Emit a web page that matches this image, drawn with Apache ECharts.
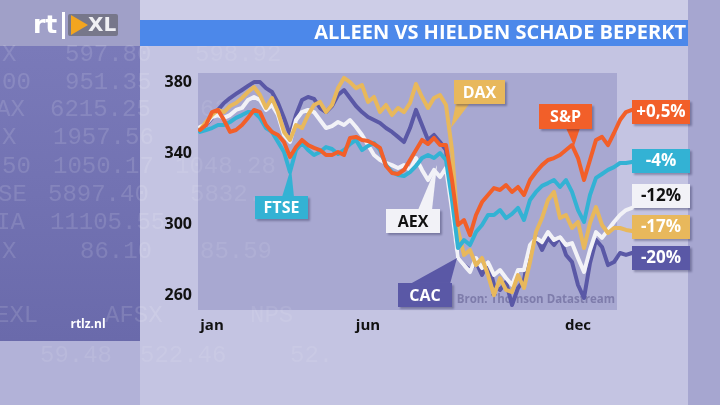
<!DOCTYPE html>
<html><head><meta charset="utf-8">
<script src="https://cdn.jsdelivr.net/npm/echarts@6/dist/echarts.min.js"></script>
<style>html,body{margin:0;padding:0;background:#c4c4e2}#c{width:720px;height:405px}</style>
</head><body><div id="c"></div>
<script>
// ---- data ----
const points = Array.from({length: 73}, (_, i) => String(i));
const monthLabels = ['jan', 'jun', 'dec'];
const monthAt = [2, 28, 63];
const yTicks = [260, 300, 340, 380];

const cac = [354.5,356.2,360.2,364.7,368.6,371.4,373.7,375.9,378.2,380.4,380.4,377.0,374.8,368.6,360.2,350.6,361.8,370.3,372.0,370.9,365.8,363.5,366.9,373.1,375.9,371.4,366.9,363.5,360.7,359.0,357.3,354.5,352.3,349.5,346.6,354.5,364.7,356.2,347.8,350.6,346.6,342.1,311.1,281.3,277.3,274.5,279.0,271.7,279.0,266.1,263.3,267.8,254.8,264.4,268.9,287.5,293.1,285.8,292.6,288.6,293.1,283.0,279.0,266.1,258.8,278.5,291.4,287.5,277.3,279.0,284.1,283.0,284.1];
const aex = [355.1,356.8,360.7,361.8,360.2,361.8,364.7,365.8,370.3,372.0,370.3,364.7,367.5,361.8,350.6,346.6,359.0,363.5,364.7,363.5,359.0,354.5,355.6,357.9,356.2,359.0,355.1,350.6,344.9,339.3,336.5,334.8,333.6,332.0,333.6,330.9,337.6,330.9,325.2,330.9,326.9,332.0,308.3,281.3,277.3,273.4,281.3,275.6,279.0,271.7,274.5,270.0,266.1,274.5,274.5,288.6,292.6,290.3,295.9,291.4,293.1,288.6,289.7,281.3,273.4,285.8,295.9,292.6,297.1,301.6,305.5,308.3,309.5];
const dax = [353.4,357.9,361.8,364.7,363.5,366.9,368.6,371.4,374.8,377.6,373.1,365.8,371.4,363.5,352.3,347.8,356.2,354.5,361.8,367.5,369.2,363.5,367.5,377.0,382.7,380.4,377.0,378.7,369.2,372.0,363.5,367.5,361.8,365.8,363.5,368.6,379.3,372.0,365.8,371.4,373.1,367.5,342.1,297.1,283.0,285.8,277.3,281.3,271.7,260.4,270.0,263.3,262.1,271.7,264.4,279.0,295.9,303.8,314.0,318.5,303.8,305.5,298.2,301.6,286.9,301.0,310.0,299.9,295.4,298.2,298.2,297.1,296.5];
const ftse = [352.3,353.4,354.5,356.2,356.2,357.9,360.2,361.8,363.5,363.5,360.2,354.5,352.3,346.6,341.0,329.7,342.1,346.1,342.1,339.3,341.0,343.8,342.7,339.9,342.1,345.5,347.8,342.1,344.4,346.1,342.1,333.6,329.7,328.0,327.5,329.7,333.1,337.6,339.3,337.6,340.4,336.5,314.0,286.9,291.4,288.6,295.9,299.9,305.5,305.5,308.3,303.8,306.1,309.5,302.7,314.0,318.5,321.9,323.5,325.2,321.3,325.2,318.5,308.3,301.6,316.8,326.4,328.6,330.9,332.5,334.8,334.8,335.4];
const sp = [353.4,356.2,363.5,364.7,359.0,352.3,353.4,356.2,360.2,364.7,363.5,356.2,352.3,350.6,346.6,338.2,343.8,347.8,344.9,343.3,342.1,339.3,339.3,341.0,339.3,348.9,349.5,347.8,347.2,345.5,343.3,333.1,329.2,328.6,330.9,336.5,342.1,347.8,345.5,348.9,344.9,344.9,325.2,299.9,302.7,294.2,305.5,312.8,316.8,320.7,319.6,322.4,318.5,321.3,316.8,325.2,329.7,333.6,336.5,337.6,339.3,342.1,344.9,337.6,325.2,336.5,347.8,349.5,344.9,351.7,359.0,363.5,364.7];

const seriesNames = ['CAC', 'AEX', 'DAX', 'FTSE', 'S&P'];
const changes = ['-20%', '-12%', '-17%', '-4%', '+0,5%'];

// ---- styles ----
const colors = {CAC: '#5a58a6', AEX: '#f2f2f7', DAX: '#e8b85c', FTSE: '#33b2d4', 'S&P': '#f25f29'};
const textColors = {CAC: '#fff', AEX: '#111', DAX: '#fff', FTSE: '#fff', 'S&P': '#fff'};
const endOffsets = {CAC: 5, AEX: -12, DAX: -4, FTSE: -1, 'S&P': 2};
const FONT = '"Open Sans", "DejaVu Sans", sans-serif';
const seriesData = {CAC: cac, AEX: aex, DAX: dax, FTSE: ftse, 'S&P': sp};

const shadow = {shadowColor: 'rgba(30,30,70,0.35)', shadowOffsetX: 2, shadowOffsetY: 2, shadowBlur: 2};

function callout(name, x, y, w, h, pointer) {
  return {
    type: 'group', z: 100, children: [
      {type: 'polygon', z: 100, shape: {points: pointer}, style: {fill: colors[name]}},
      {type: 'rect', z: 101, shape: {x: x, y: y, width: w, height: h}, style: Object.assign({fill: colors[name]}, shadow)},
      {type: 'text', z: 102, x: x + w / 2, y: y + h / 2 + 1, style: {text: name, fill: textColors[name], font: 'bold 16px ' + FONT, align: 'center', verticalAlign: 'middle'}}
    ]
  };
}

const ticker = [
  [55, [['X', 2], ['597.80', 65], ['598.92', 195]]],
  [83, [['00', 2], ['951.35', 65]]],
  [110, [['AX', -4], ['6215.25', 50], ['62', 200]]],
  [138, [['X', 2], ['1957.56', 53]]],
  [167, [['50', 2], ['1050.17', 53], ['1048.28', 175]]],
  [195, [['SE', -2], ['5897.40', 48], ['5832.', 190]]],
  [223, [['IA', -4], ['11105.55', 50]]],
  [252, [['X', 2], ['86.10', 80], ['85.59', 200]]],
  [316, [['EXL', -5], ['AFSX', 105], ['NPS', 250]]],
  [356, [['59.48', 40], ['522.46', 140], ['52.', 290]]]
];
const tickerEls = [];
ticker.forEach(([y, parts]) => parts.forEach(([t, x]) => tickerEls.push({
  type: 'text', z: 1, x: x, y: y, style: {text: t, fill: x < 140 && y < 330 ? 'rgba(255,255,255,0.13)' : 'rgba(255,255,255,0.09)', font: '24px "Liberation Mono", "DejaVu Sans Mono", monospace', verticalAlign: 'middle'}
})));

const graphics = [
  {type: 'rect', z: -10, shape: {x: 0, y: 0, width: 720, height: 405}, style: {fill: '#c4c4e2'}},
  {type: 'rect', z: -9, shape: {x: 0, y: 0, width: 720, height: 22}, style: {fill: '#cdcde7'}},
  {type: 'rect', z: -9, shape: {x: 0, y: 0, width: 140, height: 46}, style: {fill: '#a0a0c8'}},
  {type: 'rect', z: -9, shape: {x: 0, y: 46, width: 140, height: 295}, style: {fill: new echarts.graphic.LinearGradient(0, 0, 0, 1, [{offset: 0, color: '#7a7ab9'}, {offset: 1, color: '#6a6aab'}])}},
  {type: 'rect', z: -9, shape: {x: 0, y: 341, width: 140, height: 64}, style: {fill: '#b2b2d8'}},
  {type: 'rect', z: -9, shape: {x: 688, y: 0, width: 32, height: 405}, style: {fill: '#a6a6d0'}},
  {type: 'rect', z: -8, shape: {x: 198, y: 73, width: 419, height: 237}, style: {fill: '#a8a8d1'}},
  {type: 'rect', z: 5, shape: {x: 140, y: 20, width: 548, height: 26}, style: {fill: '#4c88ea'}},
  {type: 'text', z: 6, x: 686, y: 33, style: {text: 'ALLEEN VS HIELDEN SCHADE BEPERKT', fill: '#fff', font: 'bold 20px ' + FONT, align: 'right', verticalAlign: 'middle'}},
  // logo
  {type: 'text', z: 6, x: 33, y: 26, style: {text: 'rt', fill: '#fff', font: 'bold 25px "DejaVu Sans", sans-serif', verticalAlign: 'middle'}},
  {type: 'rect', z: 6, shape: {x: 62, y: 12, width: 3, height: 27}, style: {fill: '#fff'}},
  {type: 'rect', z: 6, shape: {x: 68, y: 14, width: 50, height: 22, r: 2}, style: {fill: '#77778a'}},
  {type: 'polygon', z: 7, shape: {points: [[71, 15], [88, 25], [71, 35]]}, style: {fill: '#f3a51f'}},
  {type: 'text', z: 7, x: 88, y: 26, style: {text: 'XL', fill: '#f0f0f4', font: 'bold 20px "DejaVu Sans", sans-serif', verticalAlign: 'middle'}},
  {type: 'text', z: 6, x: 88, y: 325, style: {text: 'rtlz.nl', fill: '#fff', font: 'bold 12px ' + FONT, align: 'center', verticalAlign: 'middle'}},
  {type: 'text', z: 1, x: 615, y: 300, style: {text: 'Bron: Thomson Datastream', fill: '#7e7cab', font: 'bold 11.5px ' + FONT, align: 'right', verticalAlign: 'middle'}},
  callout('FTSE', 255, 196, 53, 23, [[282, 197], [294, 197], [291, 168]]),
  callout('AEX', 386, 209, 54, 24, [[418, 210], [432, 210], [437, 165]]),
  callout('CAC', 398, 283, 54, 24, [[410, 284], [450, 284], [457, 258]]),
  callout('DAX', 454, 80, 51, 24, [[456, 103], [470, 103], [451, 128]]),
  callout('S&P', 539, 104, 53, 25, [[566, 128], [580, 128], [574, 146]])
].concat(tickerEls);

const option = {
  animation: false,
  backgroundColor: '#c4c4e2',
  graphic: {elements: graphics},
  grid: {left: 200, right: 88, top: 73, bottom: 95, containLabel: false},
  xAxis: {
    type: 'category', data: points, boundaryGap: false,
    axisLine: {show: false}, axisTick: {show: false}, splitLine: {show: false},
    axisLabel: {
      interval: (idx) => monthAt.includes(idx),
      formatter: (v, idx) => monthLabels[monthAt.indexOf(Number(v))] || '',
      color: '#111', fontWeight: 'bold', fontSize: 15, fontFamily: FONT, margin: 8
    }
  },
  yAxis: {
    type: 'value', min: 252, max: 385.5,
    axisLine: {show: false}, axisTick: {show: false}, splitLine: {show: false},
    axisLabel: {customValues: yTicks, color: '#111', fontWeight: 'bold', fontSize: 16, fontFamily: FONT, margin: 8}
  },
  series: seriesNames.map((n, k) => ({
    name: n, type: 'line', data: seriesData[n], showSymbol: false, symbol: 'none', z: 10 + k,
    lineStyle: {color: colors[n], width: 4, cap: 'round', join: 'round'},
    emphasis: {disabled: true},
    endLabel: Object.assign({
      show: true, distance: 0, offset: [0, endOffsets[n]],
      formatter: '{a|' + changes[k] + '}',
      backgroundColor: colors[n], padding: [3, 5, 2, 5],
      rich: {a: {width: 48, align: 'center', fontSize: 17, lineHeight: 19, fontWeight: 'bold', fontFamily: FONT, color: textColors[n]}}
    }, shadow)
  }))
};
echarts.init(document.getElementById('c'), null, {renderer: 'canvas'}).setOption(option);
</script></body></html>
